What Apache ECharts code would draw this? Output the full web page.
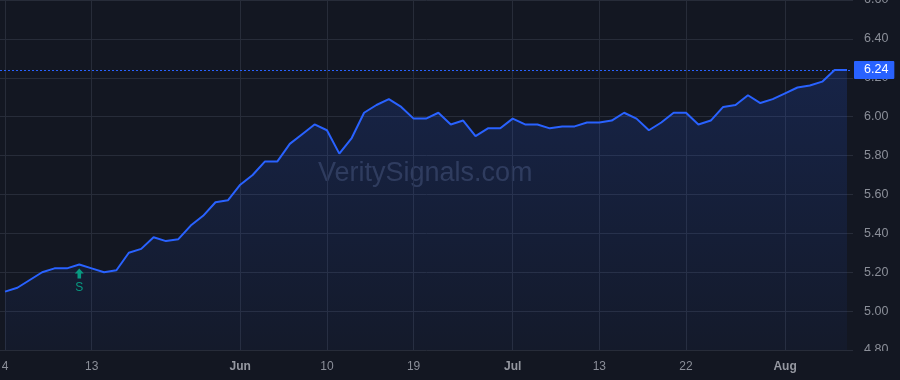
<!DOCTYPE html>
<html>
<head>
<meta charset="utf-8">
<script src="https://cdn.jsdelivr.net/npm/echarts@6/dist/echarts.min.js"></script>
<style>
  html, body { margin: 0; padding: 0; background: #131722; }
  #chart { width: 900px; height: 380px; }
</style>
</head>
<body>
<div id="chart"></div>
<script>
// closing prices, one per trading day
const prices = [
  5.10, 5.12, 5.16, 5.20, 5.22, 5.22, 5.24, 5.22, 5.20, 5.21,
  5.30, 5.32, 5.38, 5.36, 5.37, 5.44, 5.49, 5.56, 5.57, 5.65,
  5.70, 5.77, 5.77, 5.86, 5.91, 5.96, 5.93, 5.81, 5.89, 6.02,
  6.06, 6.09, 6.05, 5.99, 5.99, 6.02, 5.96, 5.98, 5.90, 5.94,
  5.94, 5.99, 5.96, 5.96, 5.94, 5.95, 5.95, 5.97, 5.97, 5.98,
  6.02, 5.99, 5.93, 5.97, 6.02, 6.02, 5.96, 5.98, 6.05, 6.06,
  6.11, 6.07, 6.09, 6.12, 6.15, 6.16, 6.18, 6.24, 6.24
];
const days = prices.map((p, i) => String(i));

// x tick labels (index into days)
const tickIndex = [0, 7, 19, 26, 33, 41, 48, 55, 63];
const tickText = ['4', '13', 'Jun', '10', '19', 'Jul', '13', '22', 'Aug'];
const monthNames = ['Jun', 'Jul', 'Aug'];

// signal marker
const signalIndex = 6;
const signalText = 'S';
const lastPrice = 6.24;

const yMin = 4.8, yMax = 6.6, yStep = 0.2;

const isTick = (i) => tickIndex.indexOf(i) >= 0;

let chart = echarts.init(document.getElementById('chart'));
let option = {
  backgroundColor: '#131722',
  animation: false,
  textStyle: { fontFamily: 'Liberation Sans, Arial, sans-serif' },
  graphic: [
    {
      type: 'text',
      left: 318,
      top: 160,
      z: 0,
      style: {
        text: 'VeritySignals.com',
        fontSize: 27,
        fontFamily: 'Liberation Sans, Arial, sans-serif',
        fill: 'rgba(110,122,155,0.33)'
      }
    },
    {
      // bottom clip of the price scale
      type: 'rect',
      shape: { x: 853, y: 351, width: 47, height: 29 },
      style: { fill: '#131722' },
      z: 100
    }
  ],
  grid: [
    { left: 0, right: 47, top: 0, bottom: 30, outerBoundsMode: 'none' },
    { left: 5, right: 53, top: 0, bottom: 30, outerBoundsMode: 'none' }
  ],
  xAxis: [
    { type: 'value', gridIndex: 0, show: false, min: 0, max: 1 },
    {
      type: 'category',
      gridIndex: 1,
      data: days,
      boundaryGap: false,
      axisLine: { show: false },
      axisTick: { show: false },
      axisLabel: {
        interval: (i) => isTick(i),
        margin: 11,
        color: '#8b8f99',
        fontSize: 12,
        formatter: (v, i) => {
          let t = tickText[tickIndex.indexOf(Number(v))];
          return monthNames.indexOf(t) >= 0 ? '{m|' + t + '}' : t;
        },
        rich: { m: { fontWeight: 'bold', color: '#9598a1', fontSize: 12 } }
      },
      splitLine: {
        show: true,
        interval: (i) => isTick(i),
        lineStyle: { color: '#272c39', width: 1 }
      }
    }
  ],
  yAxis: [
    {
      type: 'value',
      gridIndex: 0,
      position: 'right',
      min: yMin,
      max: yMax,
      interval: yStep,
      axisLine: { show: false },
      axisTick: { show: false },
      axisLabel: {
        margin: 11,
        color: '#8b8f99',
        fontSize: 12.5,
        formatter: (v) => v.toFixed(2)
      },
      splitLine: { lineStyle: { color: '#272c39', width: 1 } }
    },
    {
      type: 'value',
      gridIndex: 1,
      min: yMin,
      max: yMax,
      show: false,
      splitLine: { show: false }
    }
  ],
  series: [
    {
      type: 'line',
      xAxisIndex: 1,
      yAxisIndex: 1,
      data: prices,
      symbol: 'none',
      lineStyle: { color: '#2962ff', width: 2 },
      areaStyle: {
        color: new echarts.graphic.LinearGradient(0, 0, 0, 1, [
          { offset: 0, color: 'rgba(41,98,255,0.24)' },
          { offset: 1, color: 'rgba(41,98,255,0.06)' }
        ])
      },
      markLine: {
        silent: true,
        symbol: 'none',
        lineStyle: { color: '#2962ff', type: [2, 2], width: 1 },
        label: {
          position: 'end',
          distance: 2,
          formatter: lastPrice.toFixed(2),
          color: '#ffffff',
          fontSize: 12.5,
          backgroundColor: '#2962ff',
          padding: [3, 6, 2, 10],
          borderRadius: 1
        },
        data: [[
          { coord: [0, lastPrice], x: 0 },
          { coord: [prices.length - 1, lastPrice], x: 852 }
        ]]
      },
      markPoint: {
        silent: true,
        symbol: 'path://M5,0 L10,5 L7,5 L7,10 L3,10 L3,5 L0,5 Z',
        symbolSize: [9, 10],
        symbolOffset: [0, 9],
        itemStyle: { color: '#089981' },
        label: {
          show: true,
          position: 'bottom',
          distance: 3,
          formatter: signalText,
          color: '#089981',
          fontSize: 12
        },
        data: [{ coord: [signalIndex, prices[signalIndex]] }]
      }
    }
  ]
};
option && chart.setOption(option);
</script>
</body>
</html>
